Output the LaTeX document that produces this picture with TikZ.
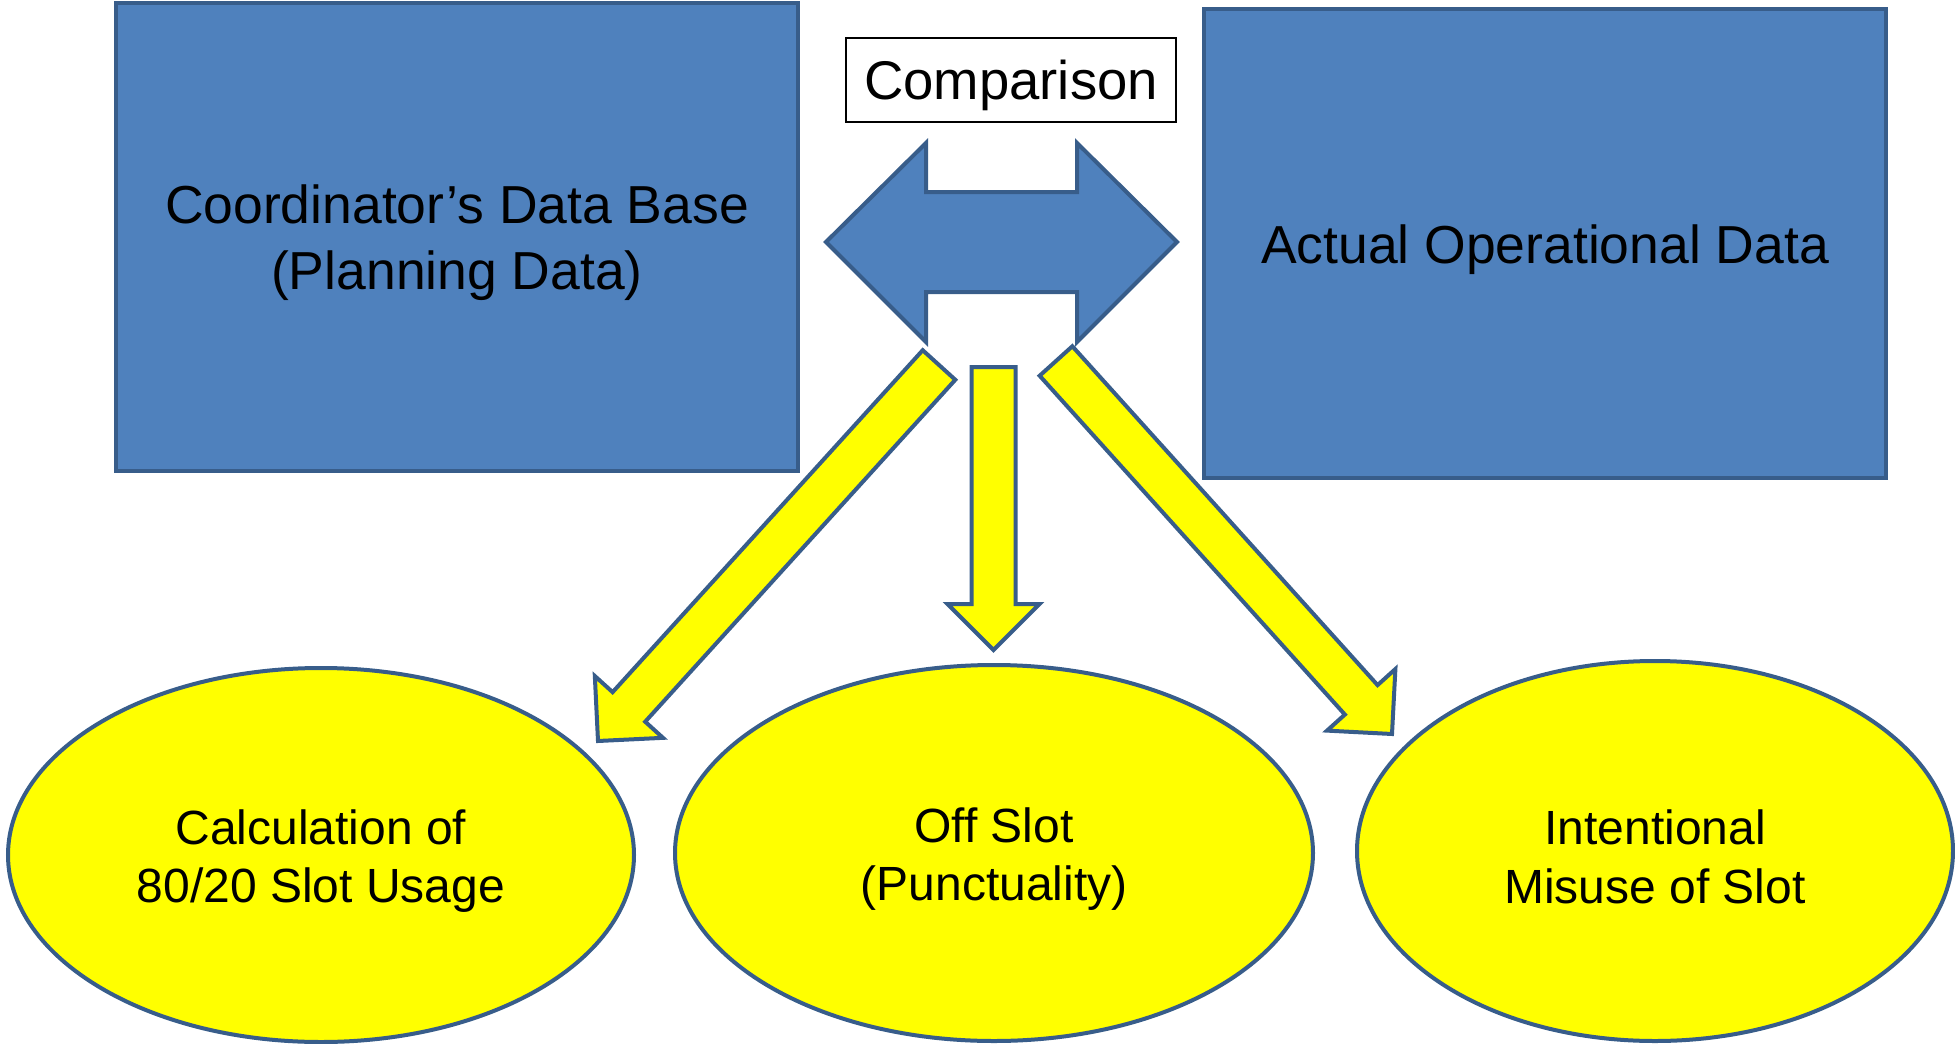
\documentclass[tikz,border=0pt]{standalone}
\usepackage{fontspec}
\setmainfont{Liberation Sans}
\usetikzlibrary{shapes.geometric,calc}
\definecolor{boxblue}{HTML}{4F81BD}
\definecolor{edgeblue}{HTML}{385D8A}
\definecolor{ylw}{HTML}{FFFF00}
\tikzset{
  bluebox/.style={draw=edgeblue,fill=boxblue,line width=4pt,rectangle,inner sep=0pt,
    minimum width=682pt,minimum height=468pt},
  oval/.style={draw=edgeblue,fill=ylw,line width=4pt,ellipse,inner sep=0pt},
  bigtext/.style={align=center,inner sep=0pt,font=\fontsize{53.5}{66}\selectfont},
  ovaltext/.style={align=center,inner sep=0pt,font=\fontsize{48}{58.5}\selectfont},
  labelbox/.style={draw=black,line width=2pt,rectangle,inner sep=0pt,
    minimum width=330pt,minimum height=84pt},
  yarrow/.style={draw=edgeblue,fill=ylw,line width=4pt,line join=miter},
  barrow/.style={draw=edgeblue,fill=boxblue,line width=4pt,line join=miter}
}
\newcommand\blkarrow[3]{%
  \coordinate (#3h) at ($(#2)!46pt!(#1)$);
  \draw[yarrow] ($(#1)!22pt!90:(#2)$) -- ($(#3h)!22pt!-90:(#1)$) -- ($(#3h)!46pt!-90:(#1)$)
    -- (#2) -- ($(#3h)!46pt!90:(#1)$) -- ($(#3h)!22pt!90:(#1)$) -- ($(#1)!22pt!-90:(#2)$) -- cycle;}
\begin{document}
\begin{tikzpicture}[x=1pt,y=-1pt]
\useasboundingbox (0,0) rectangle (1955,1044);
% boxes
\node[bluebox] (plan) at (457,237) {};
\node[bigtext] (planlbl) at ($(plan.center)+(0,6)$) {Coordinator’s Data Base\\(Planning Data)};
\node[bluebox,minimum height=469pt] (actual) at (1545,243.5) {};
\node[bigtext] (actuallbl) at ($(actual.center)+(0,6)$) {Actual Operational Data};
\node[labelbox] (cmp) at (1011,80) {};
\node[bigtext,font=\fontsize{54.5}{66}\selectfont] (cmplbl) at ($(cmp.center)+(0,5)$) {Comparison};
% double arrow
\coordinate (dl) at (826,242);
\coordinate (dr) at (1177,242);
\draw[barrow] (dl) -- (926,143) -- (926,192) -- (1077,192) -- (1077,143) -- (dr)
  -- (1077,342) -- (1077,292) -- (926,292) -- (926,342) -- cycle;
% ellipses
\node[oval,minimum width=626pt,minimum height=374pt] (calc) at (321,855) {};
\node[ovaltext] (calclbl) at ($(calc.center)+(0,6)$) {Calculation of\\80/20 Slot Usage};
\node[oval,minimum width=638pt,minimum height=376pt] (off) at (994,853) {};
\node[ovaltext] (offlbl) at ($(off.center)+(0,6)$) {Off Slot\\(Punctuality)};
\node[oval,minimum width=596pt,minimum height=380pt] (mis) at (1655,851) {};
\node[ovaltext] (mislbl) at ($(mis.center)+(0,6)$) {Intentional\\Misuse of Slot};
% block arrows
\coordinate (aLt) at (939,365);
\coordinate (aLh) at (598,741);
\coordinate (aMt) at (993.5,367);
\coordinate (aMh) at (993.5,650);
\coordinate (aRt) at (1056,361);
\coordinate (aRh) at (1392,734);
\blkarrow{aLt}{aLh}{L}
\blkarrow{aMt}{aMh}{M}
\blkarrow{aRt}{aRh}{R}
\end{tikzpicture}
\end{document}
